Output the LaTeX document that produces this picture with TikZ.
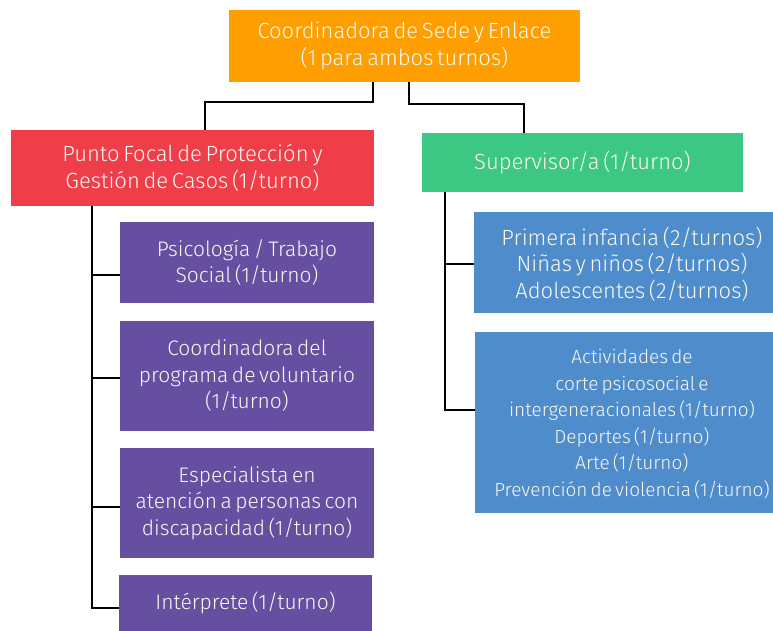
\documentclass[tikz,border=0pt]{standalone}
\usepackage{fontspec}
\setmainfont{Fira Sans}[UprightFont=* Light, WordSpace=0.6]
\definecolor{corange}{RGB}{255,158,0}
\definecolor{cred}{RGB}{239,62,74}
\definecolor{cgreen}{RGB}{60,200,130}
\definecolor{cpurple}{RGB}{102,78,160}
\definecolor{cblue}{RGB}{78,140,203}
\definecolor{ctext}{RGB}{250,248,240}
\tikzset{
  box/.style={rectangle, inner sep=0pt, outer sep=0pt, align=center, text=ctext,
    font=\fontsize{22}{26.5}\selectfont},
  pbox/.style={box, fill=cpurple, font=\fontsize{21}{26.5}\selectfont},
  txt/.style={inner sep=0pt, align=center, text=ctext, font=\fontsize{22}{26.5}\selectfont},
  conn/.style={draw=black, line width=2.6pt}
}
\begin{document}
\begin{tikzpicture}[x=1pt,y=-1pt]
\useasboundingbox (0,0) rectangle (773,631);
\node[box, fill=corange, minimum width=351pt, minimum height=72pt] (top) at (404.5,46)
  {Coordinadora de Sede y Enlace\\(1 para ambos turnos)};
\node[box, fill=cred, minimum width=363pt, minimum height=76pt] (red) at (192.5,168)
  {Punto Focal de Protección y\\Gestión de Casos (1/turno)};
\node[box, fill=cgreen, minimum width=321pt, minimum height=59pt] (green) at (582.5,162.5)
  {Supervisor/a (1/turno)};
\node[pbox, minimum width=254pt, minimum height=81pt] (psico) at (247,262.5)
  {Psicología / Trabajo\\Social (1/turno)};
\node[pbox, minimum width=254pt, minimum height=110pt] (coord) at (247,376)
  {Coordinadora del\\programa de voluntario\\(1/turno)};
\node[pbox, minimum width=254pt, minimum height=110pt] (espec) at (247,503)
  {Especialista en\\atención a personas con\\discapacidad (1/turno)};
\node[pbox, minimum width=253pt, minimum height=56pt] (interp) at (245.5,603)
  {Intérprete (1/turno)};
\node[box, fill=cblue, minimum width=299pt, minimum height=101pt] (blueA) at (623.5,262.5) {};
\node[txt] (blueAt) at (632,264)
  {Primera infancia (2/turnos)\\Niñas y niños (2/turnos)\\Adolescentes (2/turnos)};
\node[box, fill=cblue, minimum width=298pt, minimum height=181pt] (blueB) at (624,422.5) {};
\node[txt, font=\fontsize{19}{26.5}\selectfont] (blueBt) at (632,424)
  {Actividades de\\corte psicosocial e\\intergeneracionales (1/turno)\\Deportes (1/turno)\\Arte (1/turno)\\Prevención de violencia (1/turno)};
% connectors
\draw[conn] ([xshift=-31.5pt]top.south) -- ++(0,20) -| ([xshift=12.5pt]red.north);
\draw[conn] ([xshift=4.5pt]top.south) -- ++(0,22) -| ([xshift=-58.5pt]green.north);
\coordinate (lt) at ([xshift=-100.5pt]red.south);
\draw[conn] (lt) |- ([yshift=-5pt]interp.west);
\draw[conn] ([yshift=-12.5pt]psico.west) -- ([yshift=-12.5pt]psico.west -| lt);
\draw[conn] ([yshift=-2pt]coord.west) -- ([yshift=-2pt]coord.west -| lt);
\draw[conn] ([yshift=-4pt]espec.west) -- ([yshift=-4pt]espec.west -| lt);
\coordinate (rt) at ([xshift=-137.5pt]green.south);
\draw[conn] (rt) |- ([yshift=12.5pt]blueB.west);
\draw[conn] ([yshift=-1.5pt]blueA.west) -- ([yshift=-1.5pt]blueA.west -| rt);
\end{tikzpicture}
\end{document}
